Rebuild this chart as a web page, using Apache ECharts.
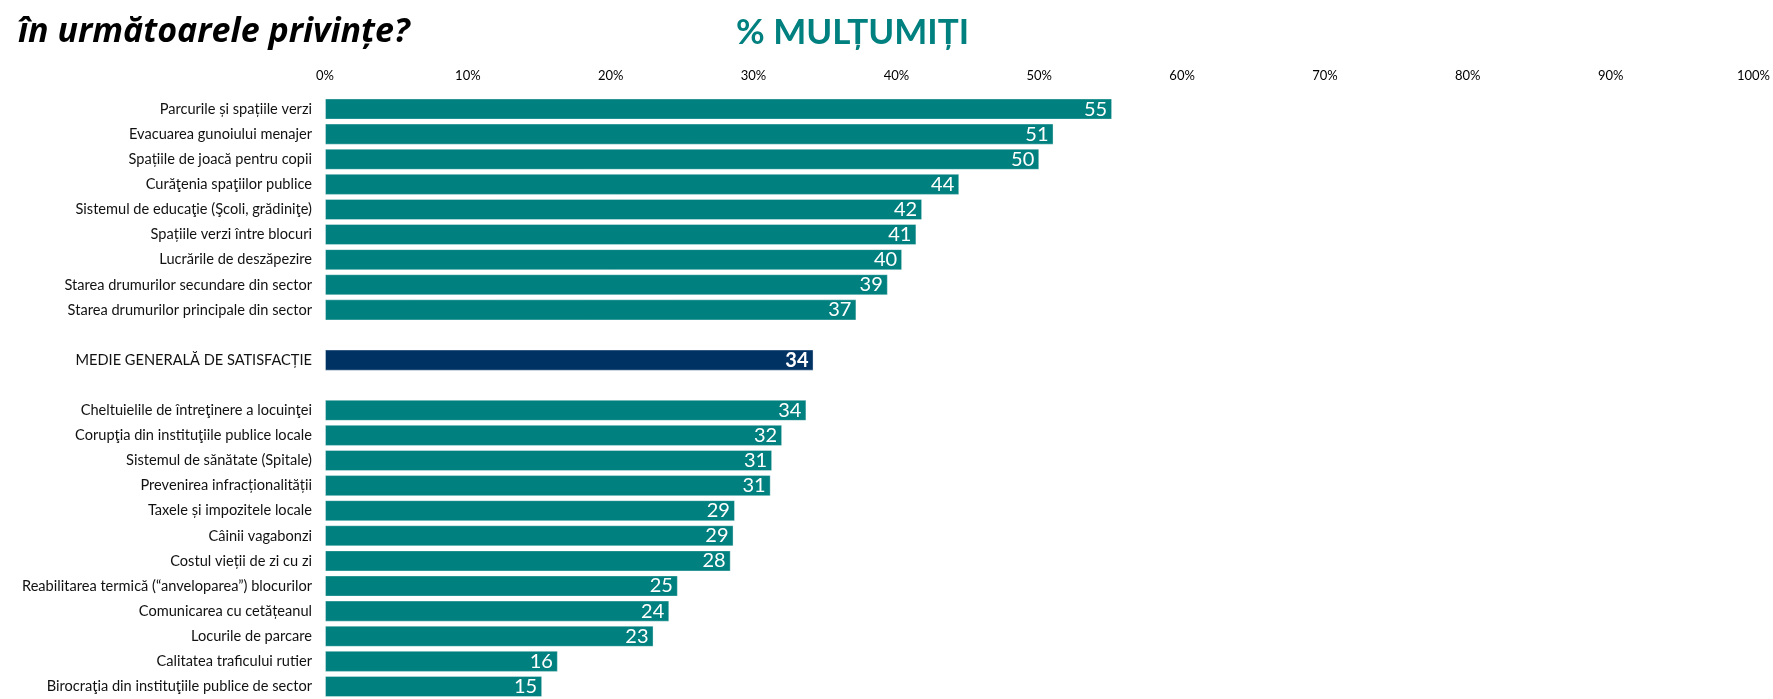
<!DOCTYPE html>
<html>
<head>
<meta charset="utf-8">
<script src="https://cdn.jsdelivr.net/npm/echarts@6/dist/echarts.min.js"></script>
<style>
  html, body { margin: 0; padding: 0; background: #fff; }
  #chart { width: 1773px; height: 699px; }
</style>
</head>
<body>
<div id="chart"></div>
<script>
// Satisfaction items, top to bottom; empty strings are spacer rows
const categories = [
  'Parcurile și spațiile verzi',
  'Evacuarea gunoiului menajer',
  'Spațiile de joacă pentru copii',
  'Curăţenia spaţiilor publice',
  'Sistemul de educaţie (Şcoli, grădiniţe)',
  'Spațiile verzi între blocuri',
  'Lucrările de deszăpezire',
  'Starea drumurilor secundare din sector',
  'Starea drumurilor principale din sector',
  '',
  'MEDIE GENERALĂ DE SATISFACȚIE',
  '',
  'Cheltuielile de întreţinere a locuinţei',
  'Corupţia din instituţiile publice locale',
  'Sistemul de sănătate (Spitale)',
  'Prevenirea infracționalității',
  'Taxele și impozitele locale',
  'Câinii vagabonzi',
  'Costul vieții de zi cu zi',
  'Reabilitarea termică (“anveloparea”) blocurilor',
  'Comunicarea cu cetățeanul',
  'Locurile de parcare',
  'Calitatea traficului rutier',
  'Birocraţia din instituţiile publice de sector'
];

// Share of respondents who are satisfied (%)
const satisfied = [
  55.1, 51.0, 50.0, 44.4, 41.8, 41.4, 40.4, 39.4, 37.2,
  null,
  34.2,
  null,
  33.7, 32.0, 31.3, 31.2, 28.7, 28.6, 28.4, 24.7, 24.1, 23.0, 16.3, 15.2
];

const axisTicks = [0, 10, 20, 30, 40, 50, 60, 70, 80, 90, 100];

const overallLabel = 'MEDIE GENERALĂ DE SATISFACȚIE';
const mainTitle = 'în următoarele privințe?';
const seriesTitle = '% MULȚUMIȚI';

const TEAL = '#00807f';
const NAVY = '#003263';
const FONT = 'Lato, "Open Sans", sans-serif';

const barData = categories.map((name, i) => {
  const isOverall = name === overallLabel;
  return {
    value: satisfied[i],
    itemStyle: { color: isOverall ? NAVY : TEAL },
    label: { fontWeight: isOverall ? 'bold' : 'normal' }
  };
});

const chart = echarts.init(document.getElementById('chart'), null, { renderer: 'canvas' });

chart.setOption({
  backgroundColor: '#ffffff',
  animation: false,
  title: [
    {
      text: mainTitle,
      left: 18,
      top: 15,
      padding: 0,
      textStyle: {
        fontFamily: '"Open Sans", Lato, sans-serif',
        fontSize: 34,
        fontWeight: 'bold',
        fontStyle: 'italic',
        color: '#000000'
      }
    },
    {
      text: seriesTitle,
      left: 736,
      top: 15,
      padding: 0,
      textStyle: {
        fontFamily: FONT,
        fontSize: 35,
        fontWeight: 'bold',
        color: TEAL
      }
    }
  ],
  // The list runs past the bottom edge, so the plot area is taller than the canvas
  grid: {
    left: 325,
    right: 18.5,
    top: 96.5,
    height: 605.3,
    containLabel: false
  },
  xAxis: {
    type: 'value',
    position: 'top',
    min: axisTicks[0],
    max: axisTicks[axisTicks.length - 1],
    interval: axisTicks[1] - axisTicks[0],
    axisLine: { show: false },
    axisTick: { show: false },
    splitLine: { show: false },
    axisLabel: {
      formatter: v => v + '%',
      fontFamily: FONT,
      fontSize: 13,
      color: '#000000',
      margin: 14
    }
  },
  yAxis: {
    type: 'category',
    data: categories,
    inverse: true,
    axisLine: { show: false },
    axisTick: { show: false },
    splitLine: { show: false },
    axisLabel: {
      fontFamily: FONT,
      fontSize: 14.6,
      color: '#111111',
      margin: 13,
      interval: 0
    }
  },
  series: [
    {
      type: 'bar',
      data: barData,
      barCategoryGap: '16%',
      itemStyle: {
        borderColor: 'rgba(255,255,255,0.35)',
        borderWidth: 1
      },
      label: {
        show: true,
        position: 'insideRight',
        distance: 5,
        color: '#ffffff',
        fontFamily: FONT,
        fontSize: 20,
        formatter: p => (p.value == null ? '' : Math.round(p.value))
      }
    }
  ]
});
</script>
</body>
</html>
